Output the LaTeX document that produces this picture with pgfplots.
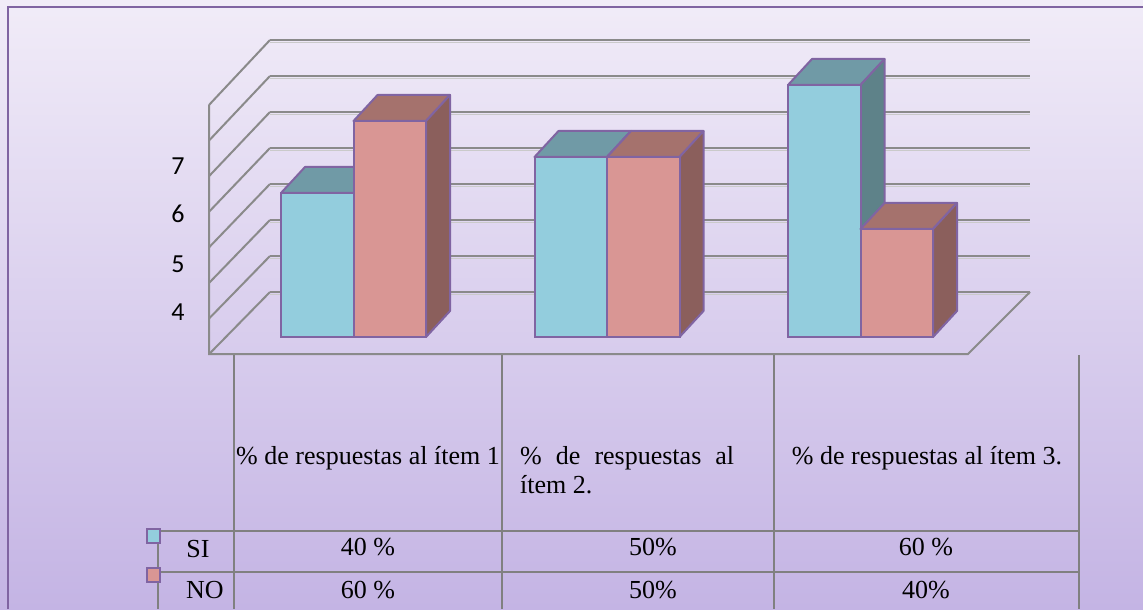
\documentclass[border=0pt]{standalone}
\usepackage{pgfplots}
\pgfplotsset{compat=1.18}
\usepackage{pgfplotstable}
\usepackage{fontspec}
\setmainfont{Liberation Serif}
\newfontfamily\carlito{Carlito}

\definecolor{edge}{RGB}{128,100,162}
\definecolor{sifront}{RGB}{147,205,221}
\definecolor{sitop}{RGB}{112,154,166}
\definecolor{siside}{RGB}{94,130,137}
\definecolor{nofront}{RGB}{217,150,148}
\definecolor{notop}{RGB}{165,114,109}
\definecolor{noside}{RGB}{139,95,92}
\definecolor{bgtop}{RGB}{241,236,248}
\definecolor{bgbot}{RGB}{196,180,228}
\definecolor{gridgray}{RGB}{138,138,138}
\definecolor{tabgray}{RGB}{128,128,128}

\pgfplotstableread{
item si no
1 4 6
2 5 5
3 7 3
}\respuestas

% picture pixel (x right, y down) -> axis coordinates
\newcommand{\px}[2]{(axis cs:{((#1)-100)/253.5},{(337-(#2))/36})}

\pgfdeclareplotmark{blank}{}

\pgfplotsset{
  faces/.style n args={3}{% left offset of front face (pt), top colour, side colour
    scatter, only marks, mark=blank,
    visualization depends on={rawy \as \val},
    scatter/@pre marker code/.code={%
      \pgfscope
      \pgfsetlinewidth{2pt}\pgfsetstrokecolor{edge}\pgfsetroundjoin
      \pgfsetfillcolor{#2}%
      \pgfpathmoveto{\pgfpoint{#1pt}{0pt}}%
      \pgfpathlineto{\pgfpoint{(#1+72.5)*1pt}{0pt}}%
      \pgfpathlineto{\pgfpoint{(#1+96.5)*1pt}{26pt}}%
      \pgfpathlineto{\pgfpoint{(#1+24)*1pt}{26pt}}%
      \pgfpathclose
      \pgfusepath{fill,stroke}%
      \pgfsetfillcolor{#3}%
      \pgfpathmoveto{\pgfpoint{(#1+72.5)*1pt}{0pt}}%
      \pgfpathlineto{\pgfpoint{(#1+96.5)*1pt}{26pt}}%
      \pgfpathlineto{\pgfpoint{(#1+96.5)*1pt}{(26-36*\val)*1pt}}%
      \pgfpathlineto{\pgfpoint{(#1+72.5)*1pt}{(-36*\val)*1pt}}%
      \pgfpathclose
      \pgfusepath{fill,stroke}%
    },
    scatter/@post marker code/.code={\endpgfscope},
  },
  front/.style={ybar, bar width=72.5pt, bar shift=#1, line width=2pt, draw=edge},
}

\begin{document}
\begin{tikzpicture}
\begin{axis}[
  x=253.5pt, y=36pt,
  xmin=-0.394477, xmax=4.114398,
  ymin=-7.555556, ymax=9.361111,
  hide axis,
  clip marker paths=true,
]
% background and frame
\shade[top color=bgtop, bottom color=bgbot] (rel axis cs:0,0) rectangle (rel axis cs:1,1);
\draw[edge, line width=2pt] \px{8}{609} -- \px{8}{7} -- \px{1143}{7};

% walls and gridlines
\pgfplotsinvokeforeach{0,...,7}{
  \draw[gridgray!45, line width=1.5pt] \px{270}{42.5+36*#1} -- \px{1030}{42.5+36*#1};
  \draw[gridgray, line width=2.5pt] \px{270}{40+36*#1} -- \px{1030}{40+36*#1};
  \draw[gridgray, line width=2pt] \px{270}{40+36*#1} -- \px{209}{105+35.6*#1};
}
\draw[gridgray, line width=2pt] \px{209}{105} -- \px{209}{354} -- \px{968}{354} -- \px{1030}{292};

% y labels
\node[anchor=base, inner sep=0pt, font=\carlito\fontsize{26}{30}\selectfont] at \px{178}{175} {7};
\node[anchor=base, inner sep=0pt, font=\carlito\fontsize{26}{30}\selectfont] at \px{178}{223} {6};
\node[anchor=base, inner sep=0pt, font=\carlito\fontsize{26}{30}\selectfont] at \px{178}{272} {5};
\node[anchor=base, inner sep=0pt, font=\carlito\fontsize{26}{30}\selectfont] at \px{178}{320} {4};

% bars
\addplot[faces={-72.5}{sitop}{siside}] table[x=item, y=si] {\respuestas};
\addplot[front=-36.25pt, fill=sifront] table[x=item, y=si] {\respuestas};
\addplot[faces={0}{notop}{noside}] table[x=item, y=no] {\respuestas};
\addplot[front=36.25pt, fill=nofront] table[x=item, y=no] {\respuestas};

% data table
\draw[tabgray, line width=1.5pt] \px{158}{530} -- \px{158}{609};
\pgfplotsinvokeforeach{234,502,774,1079}{
  \draw[tabgray, line width=1.5pt] \px{#1}{355} -- \px{#1}{609};
}
\draw[tabgray, line width=1.5pt] \px{158}{531} -- \px{1079}{531};
\draw[tabgray, line width=1.5pt] \px{158}{572} -- \px{1079}{572};

\filldraw[fill=sifront, draw=edge, line width=1.5pt] \px{147}{529} rectangle \px{160}{543};
\filldraw[fill=nofront, draw=edge, line width=1.5pt] \px{147}{568} rectangle \px{160}{582};

\begin{scope}[every node/.style={anchor=base, inner sep=0pt, font=\fontsize{26}{30}\selectfont}]
\node at \px{368}{464} {\% de respuestas al ítem 1};
\node[anchor=base west] at \px{520}{464} {\makebox[214pt][s]{\% de respuestas al}};
\node[anchor=base west] at \px{520}{494} {ítem 2.};
\node at \px{927}{464} {\% de respuestas al ítem 3.};
\node at \px{198}{557} {SI};
\node at \px{205}{598} {NO};
\node at \px{368}{556} {40 \%};
\node at \px{653}{556} {50\%};
\node at \px{926}{556} {60 \%};
\node at \px{368}{598} {60 \%};
\node at \px{653}{598} {50\%};
\node at \px{926}{598} {40\%};
\end{scope}
\end{axis}
\end{tikzpicture}
\end{document}
